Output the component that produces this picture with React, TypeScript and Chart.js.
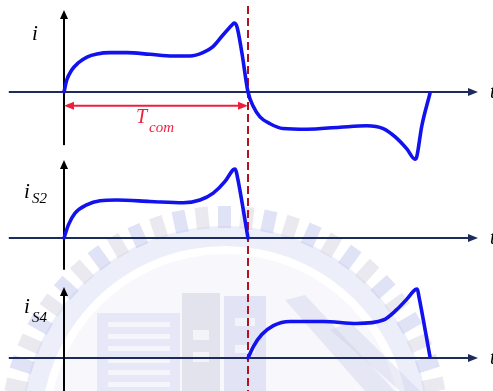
import React, { useEffect, useRef } from "react";
import { Chart, registerables } from "chart.js";

Chart.register(...registerables);

// Time is given in units of the commutation interval T_com, currents normalised to their peak.
const iTime = [0, 0.015, 0.042, 0.076, 0.125, 0.179, 0.25, 0.342, 0.467, 0.592, 0.685, 0.755, 0.81, 0.864, 0.913, 0.924, 0.94, 0.967, 1.0, 1.029, 1.065, 1.12, 1.19, 1.32, 1.5, 1.645, 1.735, 1.8, 1.862, 1.908, 1.917, 1.944, 1.989];
const iValue = [0, 0.174, 0.319, 0.42, 0.507, 0.551, 0.57, 0.57, 0.546, 0.522, 0.522, 0.57, 0.657, 0.826, 0.971, 1.0, 0.946, 0.565, 0, -0.21, -0.36, -0.46, -0.53, -0.54, -0.51, -0.49, -0.53, -0.65, -0.82, -0.975, -0.94, -0.5, -0.02];

const iS2Time = [0, 0.024, 0.06, 0.123, 0.196, 0.286, 0.467, 0.648, 0.739, 0.811, 0.875, 0.92, 0.931, 0.942, 1.0];
const iS2Value = [0, 0.19, 0.36, 0.48, 0.54, 0.55, 0.53, 0.51, 0.55, 0.65, 0.82, 0.99, 1.0, 0.89, 0];

const iS4Time = [1.0, 1.03, 1.075, 1.138, 1.228, 1.41, 1.59, 1.735, 1.808, 1.862, 1.908, 1.92, 1.929, 1.989];
const iS4Value = [0, 0.17, 0.34, 0.47, 0.53, 0.53, 0.5, 0.55, 0.7, 0.85, 0.99, 1.0, 0.89, 0.02];

const T_COM = 1;

const W = 493;
const H = 391;
const PX_PER_UNIT = 69; // vertical pixels per normalised current unit
const X_MIN = -0.3478;
const X_MAX = 2.3315;

const panelBaselines = [92, 238, 358];
const panelAxisIds = ["yI", "yS2", "yS4"];
// vertical axis extents (normalised current) for each panel: [top, bottom]
const panelYAxisExtent = [
  [1.19, -0.77],
  [1.13, -0.46],
  [1.03, -0.5],
];
const H_AXIS_START = -0.3;
const H_AXIS_END = 2.25;

const BLUE = "#1212ee";
const NAVY = "#1c2a5c";
const DASH_RED = "#b3121f";
const LABEL_RED = "#ee1f3d";
const SERIF = '"Liberation Serif", "Times New Roman", serif';

function toPoints(ts: number[], vs: number[]) {
  return ts.map((t, k) => ({ x: t, y: vs[k] }));
}

function drawCrest(ctx: CanvasRenderingContext2D) {
  const cx = 225;
  const cy = 430;
  ctx.save();
  // inner field
  ctx.fillStyle = "rgba(228,230,246,0.3)";
  ctx.beginPath();
  ctx.arc(cx, cy, 176, 0, Math.PI * 2);
  ctx.fill();
  // ring band
  ctx.fillStyle = "rgba(206,209,238,0.38)";
  ctx.beginPath();
  ctx.arc(cx, cy, 204, 0, Math.PI * 2);
  ctx.arc(cx, cy, 184, 0, Math.PI * 2, true);
  ctx.fill();
  // gear teeth
  const n = 60;
  for (let k = 0; k < n; k++) {
    const a = (k * 2 * Math.PI) / n;
    ctx.save();
    ctx.translate(cx + Math.cos(a) * 213, cy + Math.sin(a) * 213);
    ctx.rotate(a);
    ctx.fillStyle = k % 2 ? "rgba(194,198,236,0.5)" : "rgba(212,212,224,0.5)";
    ctx.fillRect(-11, -7, 22, 13);
    ctx.restore();
  }
  // building blocks
  ctx.fillStyle = "rgba(204,207,238,0.42)";
  ctx.fillRect(97, 313, 83, 78);
  ctx.fillStyle = "rgba(255,255,255,0.6)";
  for (let y = 322; y < 391; y += 12) ctx.fillRect(108, y, 62, 5);
  ctx.fillStyle = "rgba(208,208,222,0.5)";
  ctx.fillRect(182, 293, 38, 98);
  ctx.fillStyle = "rgba(255,255,255,0.6)";
  ctx.fillRect(193, 330, 16, 10);
  ctx.fillRect(193, 352, 16, 10);
  ctx.fillStyle = "rgba(200,204,238,0.45)";
  ctx.fillRect(224, 296, 42, 95);
  ctx.fillStyle = "rgba(255,255,255,0.6)";
  ctx.fillRect(235, 318, 20, 8);
  ctx.fillRect(235, 345, 20, 8);
  ctx.fillStyle = "rgba(206,208,232,0.4)";
  ctx.beginPath();
  ctx.moveTo(285, 300);
  ctx.lineTo(305, 295);
  ctx.lineTo(395, 391);
  ctx.lineTo(365, 391);
  ctx.closePath();
  ctx.fill();
  ctx.beginPath();
  ctx.moveTo(330, 330);
  ctx.lineTo(350, 322);
  ctx.lineTo(420, 391);
  ctx.lineTo(400, 391);
  ctx.closePath();
  ctx.fill();
  ctx.restore();
}

function arrowHead(ctx: CanvasRenderingContext2D, x: number, y: number, angle: number, len: number, half: number, color: string) {
  ctx.save();
  ctx.translate(x, y);
  ctx.rotate(angle);
  ctx.fillStyle = color;
  ctx.beginPath();
  ctx.moveTo(0, 0);
  ctx.lineTo(-len, -half);
  ctx.lineTo(-len, half);
  ctx.closePath();
  ctx.fill();
  ctx.restore();
}

const overlayPlugin = {
  id: "waveAxes",
  beforeDraw(chart: any) {
    drawCrest(chart.ctx);
  },
  beforeDatasetsDraw(chart: any) {
    const ctx: CanvasRenderingContext2D = chart.ctx;
    const xs = chart.scales.x;
    const x0 = xs.getPixelForValue(0);
    const xa = xs.getPixelForValue(H_AXIS_START);
    const xb = xs.getPixelForValue(H_AXIS_END);
    ctx.save();
    panelAxisIds.forEach((id, p) => {
      const ys = chart.scales[id];
      const yb = ys.getPixelForValue(0);
      // time axis
      ctx.strokeStyle = NAVY;
      ctx.lineWidth = 2;
      ctx.beginPath();
      ctx.moveTo(xa, yb);
      ctx.lineTo(xb - 6, yb);
      ctx.stroke();
      arrowHead(ctx, xb, yb, 0, 10, 4, NAVY);
      // current axis
      const yt = ys.getPixelForValue(panelYAxisExtent[p][0]);
      const ybot = ys.getPixelForValue(panelYAxisExtent[p][1]);
      ctx.strokeStyle = "#000";
      ctx.lineWidth = 2;
      ctx.beginPath();
      ctx.moveTo(x0, ybot);
      ctx.lineTo(x0, yt + 6);
      ctx.stroke();
      arrowHead(ctx, x0, yt, -Math.PI / 2, 9, 4, "#000");
    });

    // commutation instant
    const xc = xs.getPixelForValue(T_COM);
    ctx.strokeStyle = DASH_RED;
    ctx.lineWidth = 2;
    ctx.setLineDash([8, 4]);
    ctx.beginPath();
    ctx.moveTo(xc, 6);
    ctx.lineTo(xc, H);
    ctx.stroke();
    ctx.setLineDash([]);

    // T_com dimension arrow
    const yI = chart.scales.yI;
    const yd = yI.getPixelForValue(-0.2);
    ctx.strokeStyle = LABEL_RED;
    ctx.lineWidth = 2;
    ctx.beginPath();
    ctx.moveTo(x0 + 6, yd);
    ctx.lineTo(xc - 6, yd);
    ctx.stroke();
    arrowHead(ctx, x0, yd, Math.PI, 10, 4, LABEL_RED);
    arrowHead(ctx, xc, yd, 0, 10, 4, LABEL_RED);

    ctx.textBaseline = "alphabetic";
    ctx.textAlign = "left";
    ctx.fillStyle = LABEL_RED;
    ctx.font = `italic 20px ${SERIF}`;
    ctx.fillText("T", 136, 123);
    ctx.font = `italic 15px ${SERIF}`;
    ctx.fillText("com", 149, 132);

    // panel labels
    ctx.fillStyle = "#000";
    ctx.font = `italic 21px ${SERIF}`;
    ctx.fillText("i", 32, 40);
    ctx.fillText("i", 24, 198);
    ctx.fillText("i", 24, 313);
    ctx.font = `italic 15px ${SERIF}`;
    ctx.fillText("S2", 32, 203);
    ctx.fillText("S4", 32, 322);

    // time-axis labels at the right edge
    ctx.font = `italic 20px ${SERIF}`;
    panelAxisIds.forEach((id) => {
      const yb = chart.scales[id].getPixelForValue(0);
      ctx.fillText("t", xb + 12, yb + 6);
    });
    ctx.restore();
  },
};

export default function App() {
  const canvasRef = useRef<HTMLCanvasElement | null>(null);

  useEffect(() => {
    const canvas = canvasRef.current;
    if (!canvas) return;
    const span = H / PX_PER_UNIT;
    const yScale = (p: number) => ({
      type: "linear" as const,
      display: false,
      min: panelBaselines[p] / PX_PER_UNIT - span,
      max: panelBaselines[p] / PX_PER_UNIT,
    });
    const lineStyle = {
      borderColor: BLUE,
      borderWidth: 3.6,
      pointRadius: 0,
      fill: false,
      cubicInterpolationMode: "monotone" as const,
      borderCapStyle: "round" as const,
      borderJoinStyle: "round" as const,
    };
    const chart = new Chart(canvas, {
      type: "line",
      data: {
        datasets: [
          { ...lineStyle, label: "i", data: toPoints(iTime, iValue), yAxisID: "yI" },
          { ...lineStyle, label: "iS2", data: toPoints(iS2Time, iS2Value), yAxisID: "yS2" },
          { ...lineStyle, label: "iS4", data: toPoints(iS4Time, iS4Value), yAxisID: "yS4" },
        ],
      },
      options: {
        animation: false,
        responsive: false,
        devicePixelRatio: 1,
        layout: { padding: 0 },
        plugins: { legend: { display: false }, tooltip: { enabled: false } },
        events: [],
        scales: {
          x: { type: "linear", display: false, min: X_MIN, max: X_MAX },
          yI: yScale(0),
          yS2: yScale(1),
          yS4: yScale(2),
        },
      },
      plugins: [overlayPlugin],
    });
    return () => chart.destroy();
  }, []);

  return (
    <div style={{ position: "absolute", left: 0, top: 0, width: W, height: H, background: "#fff" }}>
      <canvas ref={canvasRef} width={W} height={H} style={{ display: "block" }} />
    </div>
  );
}
